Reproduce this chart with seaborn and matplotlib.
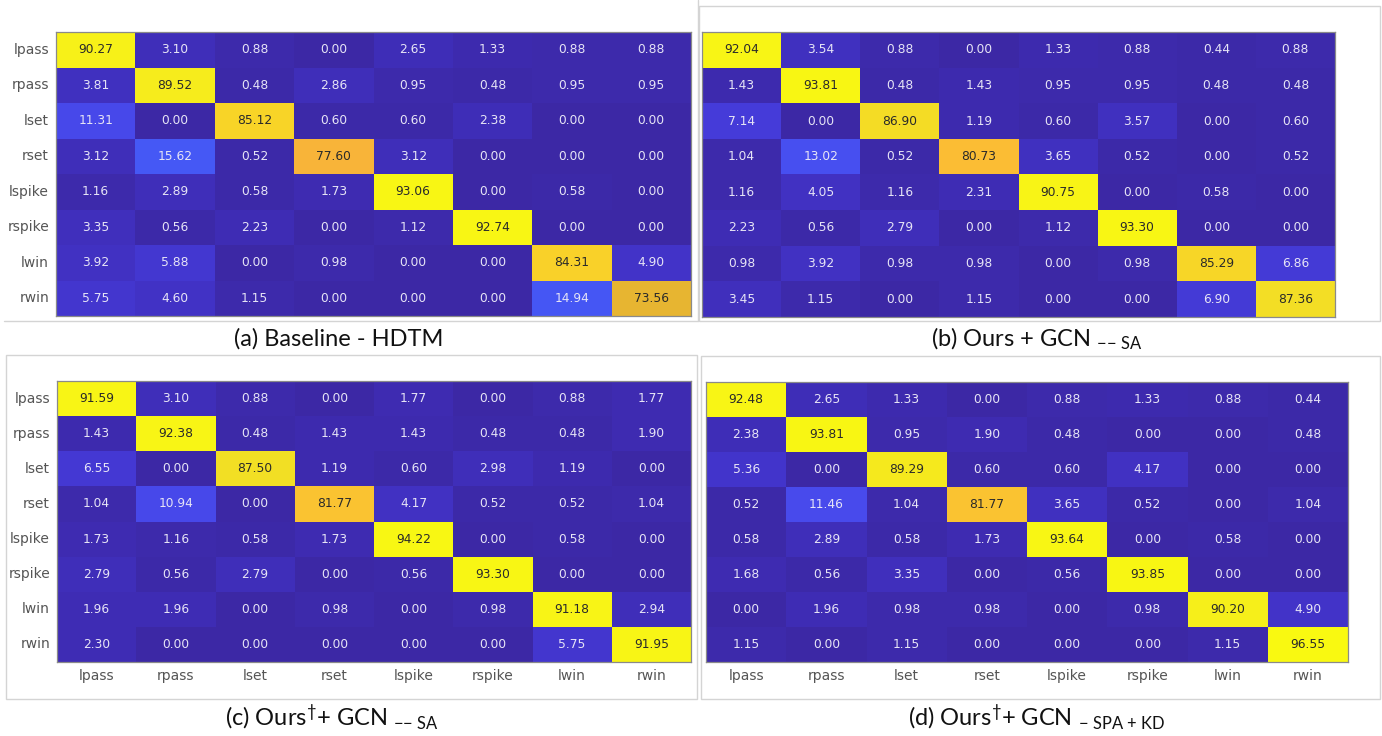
import numpy as np
import matplotlib
matplotlib.use("Agg")
import matplotlib.pyplot as plt
import seaborn as sns
from matplotlib.colors import LinearSegmentedColormap
from matplotlib.patches import Rectangle
from matplotlib.lines import Line2D

labels = ["lpass", "rpass", "lset", "rset", "lspike", "rspike", "lwin", "rwin"]

cm_a = [
    [90.27, 3.10, 0.88, 0.00, 2.65, 1.33, 0.88, 0.88],
    [3.81, 89.52, 0.48, 2.86, 0.95, 0.48, 0.95, 0.95],
    [11.31, 0.00, 85.12, 0.60, 0.60, 2.38, 0.00, 0.00],
    [3.12, 15.62, 0.52, 77.60, 3.12, 0.00, 0.00, 0.00],
    [1.16, 2.89, 0.58, 1.73, 93.06, 0.00, 0.58, 0.00],
    [3.35, 0.56, 2.23, 0.00, 1.12, 92.74, 0.00, 0.00],
    [3.92, 5.88, 0.00, 0.98, 0.00, 0.00, 84.31, 4.90],
    [5.75, 4.60, 1.15, 0.00, 0.00, 0.00, 14.94, 73.56],
]
cm_b = [
    [92.04, 3.54, 0.88, 0.00, 1.33, 0.88, 0.44, 0.88],
    [1.43, 93.81, 0.48, 1.43, 0.95, 0.95, 0.48, 0.48],
    [7.14, 0.00, 86.90, 1.19, 0.60, 3.57, 0.00, 0.60],
    [1.04, 13.02, 0.52, 80.73, 3.65, 0.52, 0.00, 0.52],
    [1.16, 4.05, 1.16, 2.31, 90.75, 0.00, 0.58, 0.00],
    [2.23, 0.56, 2.79, 0.00, 1.12, 93.30, 0.00, 0.00],
    [0.98, 3.92, 0.98, 0.98, 0.00, 0.98, 85.29, 6.86],
    [3.45, 1.15, 0.00, 1.15, 0.00, 0.00, 6.90, 87.36],
]
cm_c = [
    [91.59, 3.10, 0.88, 0.00, 1.77, 0.00, 0.88, 1.77],
    [1.43, 92.38, 0.48, 1.43, 1.43, 0.48, 0.48, 1.90],
    [6.55, 0.00, 87.50, 1.19, 0.60, 2.98, 1.19, 0.00],
    [1.04, 10.94, 0.00, 81.77, 4.17, 0.52, 0.52, 1.04],
    [1.73, 1.16, 0.58, 1.73, 94.22, 0.00, 0.58, 0.00],
    [2.79, 0.56, 2.79, 0.00, 0.56, 93.30, 0.00, 0.00],
    [1.96, 1.96, 0.00, 0.98, 0.00, 0.98, 91.18, 2.94],
    [2.30, 0.00, 0.00, 0.00, 0.00, 0.00, 5.75, 91.95],
]
cm_d = [
    [92.48, 2.65, 1.33, 0.00, 0.88, 1.33, 0.88, 0.44],
    [2.38, 93.81, 0.95, 1.90, 0.48, 0.00, 0.00, 0.48],
    [5.36, 0.00, 89.29, 0.60, 0.60, 4.17, 0.00, 0.00],
    [0.52, 11.46, 1.04, 81.77, 3.65, 0.52, 0.00, 1.04],
    [0.58, 2.89, 0.58, 1.73, 93.64, 0.00, 0.58, 0.00],
    [1.68, 0.56, 3.35, 0.00, 0.56, 93.85, 0.00, 0.00],
    [0.00, 1.96, 0.98, 0.98, 0.00, 0.98, 90.20, 4.90],
    [1.15, 0.00, 1.15, 0.00, 0.00, 0.00, 1.15, 96.55],
]

captions = [
    r"(a) Baseline - HDTM",
    r"(b) Ours + GCN $_{\mathrm{{-}{-}\ SA}}$",
    r"(c) Ours$^{\dagger}$+ GCN $_{\mathrm{{-}{-}\ SA}}$",
    r"(d) Ours$^{\dagger}$+ GCN $_{\mathrm{{-}\ SPA\ {+}\ KD}}$",
]

sns.set_theme(style="white")
plt.rcParams["font.family"] = ["DejaVu Sans"]
plt.rcParams["mathtext.fontset"] = "custom"
plt.rcParams["mathtext.rm"] = "Lato"
plt.rcParams["mathtext.it"] = "Lato:italic"
plt.rcParams["mathtext.bf"] = "Lato:bold"

# parula-like colormap anchored in value space (0..100)
anchors = [
    (0.00, (60, 40, 165)),
    (0.02, (62, 44, 180)),
    (0.05, (66, 52, 202)),
    (0.08, (70, 62, 224)),
    (0.12, (72, 76, 238)),
    (0.16, (68, 90, 246)),
    (0.45, (40, 170, 200)),
    (0.62, (150, 190, 90)),
    (0.72, (222, 182, 44)),
    (0.77, (248, 178, 58)),
    (0.81, (251, 190, 52)),
    (0.845, (249, 210, 40)),
    (0.88, (242, 224, 36)),
    (0.91, (248, 244, 22)),
    (1.00, (249, 251, 14)),
]
cmap = LinearSegmentedColormap.from_list(
    "parula_like", [(p, tuple(c / 255 for c in rgb)) for p, rgb in anchors])

W, H = 1382, 736
fig = plt.figure(figsize=(W / 100, H / 100), dpi=100)
fig.patch.set_facecolor("white")

def px_axes(x0, y0, x1, y1):
    return fig.add_axes([x0 / W, 1 - y1 / H, (x1 - x0) / W, (y1 - y0) / H])

frame_col = "#d4d4d4"
def px_rect(x0, y0, x1, y1):
    fig.add_artist(Rectangle((x0 / W, 1 - y1 / H), (x1 - x0) / W, (y1 - y0) / H,
                             transform=fig.transFigure, fill=False,
                             edgecolor=frame_col, linewidth=1.0))
def px_line(xs, ys):
    fig.add_artist(Line2D([x / W for x in xs], [1 - y / H for y in ys],
                          transform=fig.transFigure, color=frame_col, linewidth=1.0))

px_line([4, 698], [321, 321])
px_line([698, 698], [0, 321])
px_rect(699, 6, 1380, 321)
px_rect(6, 355, 697, 699)
px_rect(701, 356, 1380, 699)

boxes = [
    (56, 32, 691, 316),
    (702, 32, 1335, 317),
    (57, 381, 691, 662),
    (706, 382, 1348, 662),
]
show_y = [True, False, True, False]
show_x = [False, False, True, True]
mats = [cm_a, cm_b, cm_c, cm_d]

for m, box, sy, sx in zip(mats, boxes, show_y, show_x):
    ax = px_axes(*box)
    sns.heatmap(np.array(m), ax=ax, cmap=cmap, vmin=0, vmax=100, cbar=False,
                annot=True, fmt=".2f", annot_kws={"size": 8.8},
                xticklabels=labels if sx else False,
                yticklabels=labels if sy else False,
                square=False)
    for t in ax.texts:
        if np.mean(matplotlib.colors.to_rgb(t.get_color())) > 0.5:
            t.set_color("#e6e4f6")
        else:
            t.set_color("#2a2a2a")
    ax.tick_params(length=0, labelsize=10, labelcolor="#555555", pad=5)
    if sy:
        plt.setp(ax.get_yticklabels(), rotation=0)
    if sx:
        plt.setp(ax.get_xticklabels(), rotation=0)
    for s in ax.spines.values():
        s.set_visible(True)
        s.set_color("#8a8a8a")
        s.set_linewidth(0.9)

cap_pos = [(339, 339), (1037, 339), (332, 717), (1037, 717)]
for txt, (cx, cy) in zip(captions, cap_pos):
    fig.text(cx / W, 1 - cy / H, txt, ha="center", va="center",
             fontsize=17, family="Lato", color="#111111")

fig.savefig("out.png", dpi=100, facecolor="white")
